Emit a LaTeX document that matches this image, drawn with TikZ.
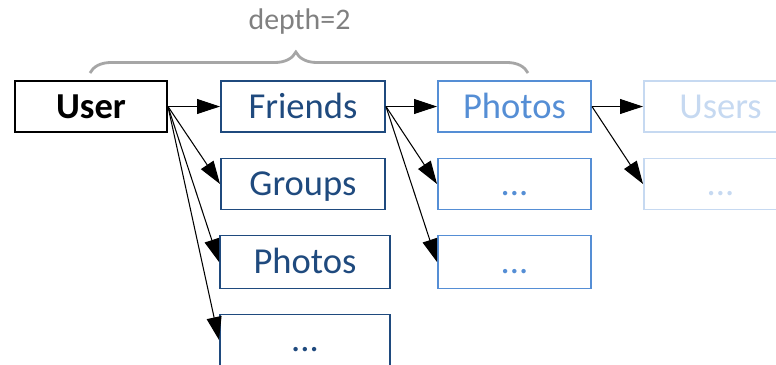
\documentclass[tikz,border=0pt]{standalone}
\usepackage{fontspec}
\setmainfont{Carlito}
\usetikzlibrary{arrows.meta,decorations.pathreplacing}

\definecolor{navy}{HTML}{1F4A7E}
\definecolor{midblue}{HTML}{558ED5}
\definecolor{paleblue}{HTML}{C6D9F1}
\definecolor{bracegray}{HTML}{A6A6A6}

\begin{document}
\begin{tikzpicture}[>={Triangle[length=.46cm,width=.3cm]},font=\fontsize{20.8}{24}\selectfont,
  box/.style={draw,line width=1.1pt,minimum height=1.02cm,inner sep=0pt,text height=.47cm,text depth=0pt},
  lvl1/.style={box,navy,text=navy},lvl2/.style={box,midblue,text=midblue},lvl3/.style={box,paleblue,text=paleblue},
  link/.style={->,line width=.6pt}]
\useasboundingbox (0,0) rectangle (15.52,-7.3);
% start node and first hop
\node[box,font=\fontsize{20.8}{24}\selectfont\bfseries,minimum width=3.04cm] (user) at (1.82,-2.13) {User};
\node[lvl1,minimum width=3.28cm] (friends) at (6.06,-2.13) {Friends};
\node[lvl1,minimum width=3.28cm] (groups) at (6.06,-3.68) {Groups};
\node[lvl1,minimum width=3.4cm,minimum height=1.06cm] (photos) at (6.10,-5.24) {Photos};
\node[lvl1,minimum width=3.4cm] (more1) at (6.10,-6.8) {...};
% second hop
\node[lvl2,minimum width=3.06cm] (fphotos) at (10.29,-2.13) {Photos};
\node[lvl2,minimum width=3.06cm] (more2a) at (10.29,-3.68) {...};
\node[lvl2,minimum width=3.06cm,minimum height=1.06cm] (more2b) at (10.29,-5.24) {...};
% third hop, out of range
\node[lvl3,minimum width=3.06cm] (users) at (14.41,-2.13) {Users};
\node[lvl3,minimum width=3.06cm] (more3) at (14.41,-3.68) {...};
\draw[link] (user.east)--(friends.west);
\draw[link] (user.east)--(groups.west);
\draw[link] (user.east)--(photos.west);
\draw[link] (user.east)--(more1.west);
\draw[link] (friends.east)--(fphotos.west);
\draw[link] (friends.east)--(more2a.west);
\draw[link] (friends.east)--(more2b.west);
\draw[link] (fphotos.east)--(users.west);
\draw[link] (fphotos.east)--(more3.west);
% depth brace
\coordinate (bl) at (1.8,-1.46);
\coordinate (br) at (10.56,-1.46);
\draw[bracegray,line width=1.6pt,decorate,decoration={brace,amplitude=.42cm,aspect=.47}] (bl)--(br);
\node[text=gray,font=\fontsize{17}{20}\selectfont] (depth) at (5.99,-.44) {depth=2};
\end{tikzpicture}
\end{document}
